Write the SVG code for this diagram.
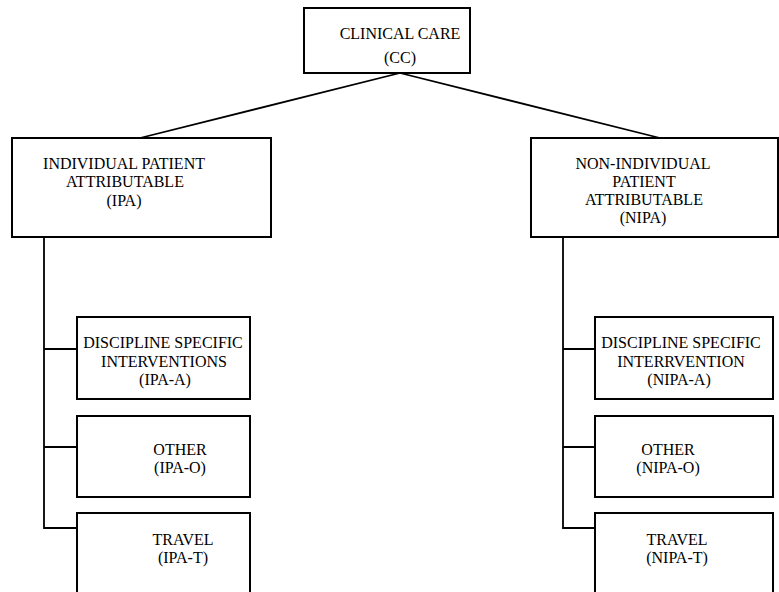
<svg xmlns="http://www.w3.org/2000/svg" width="779" height="592" viewBox="0 0 779 592">
<style>
.box{fill:#fff;stroke:#000;stroke-width:2}
.con{fill:none;stroke:#000;stroke-width:1.8}
text{font-family:"Liberation Serif","Times New Roman",serif;font-size:16px;fill:#000;text-anchor:middle}
</style>
<rect width="779" height="592" fill="#fff"/>
<g id="connectors">
<path class="con" d="M400,73 L140,138 M400,73 L660,138"/>
<path class="con" d="M44,237 V528 H77 M44,349 H77 M44,447 H77"/>
<path class="con" d="M563,237 V528 H595 M563,349 H595 M563,447 H595"/>
</g>
<g id="cc">
<rect class="box" x="304" y="8" width="166" height="65"/>
<text x="400" y="39">CLINICAL CARE</text>
<text x="400" y="63">(CC)</text>
</g>
<g id="ipa">
<rect class="box" x="12" y="138" width="259" height="99"/>
<text x="124" y="169">INDIVIDUAL PATIENT</text>
<text x="125" y="187">ATTRIBUTABLE</text>
<text x="124" y="206">(IPA)</text>
</g>
<g id="nipa">
<rect class="box" x="531" y="138" width="247" height="99"/>
<text x="643" y="169">NON-INDIVIDUAL</text>
<text x="644" y="187">PATIENT</text>
<text x="644" y="205">ATTRIBUTABLE</text>
<text x="643" y="223">(NIPA)</text>
</g>
<g id="ipa-a">
<rect class="box" x="77" y="317" width="173" height="82"/>
<text x="163" y="348">DISCIPLINE SPECIFIC</text>
<text x="164" y="367">INTERVENTIONS</text>
<text x="165" y="385">(IPA-A)</text>
</g>
<g id="ipa-o">
<rect class="box" x="77" y="416" width="173" height="81"/>
<text x="180" y="455">OTHER</text>
<text x="180" y="473">(IPA-O)</text>
</g>
<g id="ipa-t">
<rect class="box" x="77" y="513" width="173" height="90"/>
<text x="183" y="545">TRAVEL</text>
<text x="183" y="563">(IPA-T)</text>
</g>
<g id="nipa-a">
<rect class="box" x="595" y="317" width="178" height="82"/>
<text x="681" y="348">DISCIPLINE SPECIFIC</text>
<text x="681" y="367">INTERRVENTION</text>
<text x="679" y="385">(NIPA-A)</text>
</g>
<g id="nipa-o">
<rect class="box" x="595" y="416" width="178" height="81"/>
<text x="668" y="455">OTHER</text>
<text x="668" y="473">(NIPA-O)</text>
</g>
<g id="nipa-t">
<rect class="box" x="595" y="513" width="178" height="90"/>
<text x="677" y="545">TRAVEL</text>
<text x="677" y="563">(NIPA-T)</text>
</g>
</svg>
